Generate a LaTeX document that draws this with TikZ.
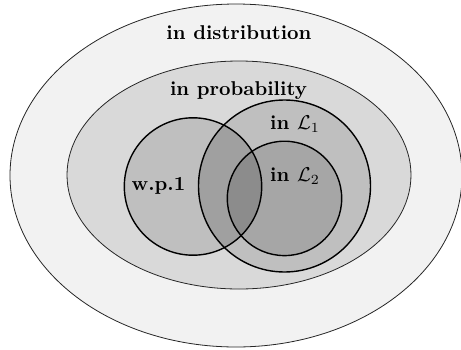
\documentclass[tikz,border=0pt]{standalone}
\definecolor{cOut}{HTML}{F2F2F2}
\definecolor{cProb}{HTML}{D9D9D9}
\definecolor{cOne}{HTML}{BFBFBF}
\definecolor{cWL}{HTML}{A0A0A0}
\definecolor{cLL}{HTML}{A6A6A6}
\definecolor{cAll}{HTML}{8C8C8C}
\begin{document}
\begin{tikzpicture}[x=0.5pt,y=-0.5pt,
  lab/.style={font=\bfseries, anchor=base, inner sep=0pt},
  thinline/.style={line width=0.4pt, draw=black!85},
  ring/.style={line width=0.7pt, draw=black}]
\useasboundingbox (0,0) rectangle (461,349);
\clip (0,0) rectangle (461,349);
\coordinate (cD) at (236,175.5);
\coordinate (cP) at (239,175);
\coordinate (cW) at (193,186.5);
\coordinate (cA) at (284.5,186);
\coordinate (cB) at (284.5,198.4);
% outer ellipse
\path[fill=cOut, thinline] (cD) ellipse [x radius=226, y radius=171.5];
% in probability
\path[fill=cProb, thinline] (cP) ellipse [x radius=172, y radius=114];
% circles fills
\fill[cOne] (cW) circle [radius=68.7];
\fill[cOne] (cA) circle [radius=86];
\begin{scope}
  \clip (cW) circle [radius=68.7];
  \fill[cWL] (cA) circle [radius=86];
\end{scope}
\fill[cLL] (cB) circle [radius=57.2];
\begin{scope}
  \clip (cW) circle [radius=68.7];
  \fill[cAll] (cB) circle [radius=57.2];
\end{scope}
% circle outlines
\draw[ring] (cW) circle [radius=68.7];
\draw[ring] (cA) circle [radius=86];
\draw[ring] (cB) circle [radius=57.2];
% labels
\node[lab] (tD) at (239,39) {in distribution};
\node[lab] (tP) at (238.5,95) {in probability};
\node[lab] (tA) at (295,129.5) {in $\mathcal{L}_1$};
\node[lab] (tB) at (295,181.7) {in $\mathcal{L}_2$};
\node[lab] (tW) at (158.5,190.7) {w.p.1};
\end{tikzpicture}
\end{document}
